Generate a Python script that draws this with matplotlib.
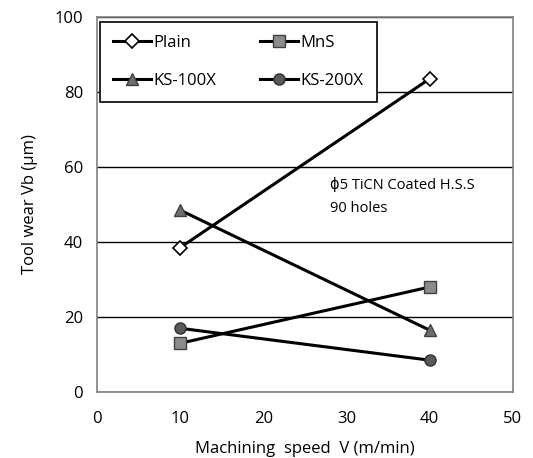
import matplotlib
matplotlib.use("Agg")
import matplotlib.pyplot as plt

# ---- data ----
speed = [10, 40]
plain = [38.5, 83.5]
mns = [13, 28]
ks100x = [48.5, 16.5]
ks200x = [17, 8.5]

x_ticks = [0, 10, 20, 30, 40, 50]
y_ticks = [0, 20, 40, 60, 80, 100]

plt.rcParams['font.family'] = ['Open Sans', 'DejaVu Sans']

fig = plt.figure(figsize=(5.33, 4.58), dpi=100)
ax = fig.add_axes([0.182, 0.144, 0.780, 0.819])

h_plain, = ax.plot(speed, plain, color='black', lw=2.2, marker='D', ms=7,
                   mfc='white', mec='black', mew=1.2, label='Plain', zorder=3)
h_mns, = ax.plot(speed, mns, color='black', lw=2.2, marker='s', ms=8,
                 mfc='#8c8c8c', mec='#404040', mew=1.0, label='MnS', zorder=3)
h_100, = ax.plot(speed, ks100x, color='black', lw=2.2, marker='^', ms=9,
                 mfc='#6e6e6e', mec='#404040', mew=1.0, label='KS-100X', zorder=3)
h_200, = ax.plot(speed, ks200x, color='black', lw=2.2, marker='o', ms=8,
                 mfc='#595959', mec='#303030', mew=1.0, label='KS-200X', zorder=3)

ax.set_xlim(0, 50)
ax.set_ylim(0, 100)
ax.set_xticks(x_ticks)
ax.set_yticks(y_ticks)
ax.tick_params(axis='y', length=0, labelsize=12, pad=10, colors='black')
ax.tick_params(axis='x', length=0, labelsize=12, pad=14, colors='black')
ax.yaxis.grid(True, color='black', lw=1.0)
ax.set_axisbelow(True)
for s in ax.spines.values():
    s.set_color('#808080')
    s.set_linewidth(1.2)

ax.set_xlabel('Machining  speed  V (m/min)', fontsize=12, labelpad=10)
ax.set_ylabel('Tool wear Vb (\u00b5m)', fontsize=12, labelpad=12)

ax.text(28.0, 52.0, '\u03d55 TiCN Coated H.S.S\n90 holes', fontsize=10.5,
        va='center', ha='left', linespacing=1.75)

# row-major order like the original: Plain, MnS / KS-100X, KS-200X
leg = ax.legend([h_plain, h_100, h_mns, h_200],
                ['Plain', 'KS-100X', 'MnS', 'KS-200X'],
                ncol=2, loc='upper left', bbox_to_anchor=(0.006, 0.987),
                fontsize=12, frameon=True, fancybox=False, handlelength=2.3,
                columnspacing=2.6, borderpad=0.8, labelspacing=1.3,
                handletextpad=0.15, borderaxespad=0)
leg.get_frame().set_edgecolor('black')
leg.get_frame().set_linewidth(1.2)
leg.get_frame().set_alpha(1)

fig.savefig('out.png', dpi=100)
